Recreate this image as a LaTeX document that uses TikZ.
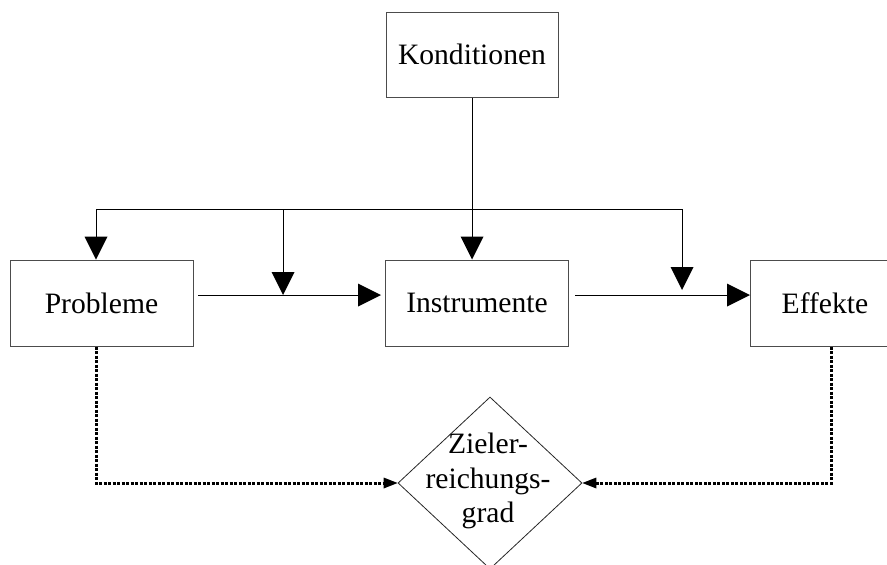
\documentclass[tikz,border=0pt]{standalone}
\usepackage{fontspec}
\setmainfont{Liberation Serif}
\usetikzlibrary{shapes.geometric,arrows.meta}
\begin{document}
\begin{tikzpicture}[x=1pt,y=-1pt,
  txt/.style={font=\fontsize{29.6}{34.5}\selectfont},
  box/.style={txt, draw=black!70, line width=1pt, minimum width=183pt, minimum height=86pt, inner sep=0pt},
  wire/.style={line width=1pt},
  flow/.style={wire, -{Triangle[length=23pt,width=23pt,line width=0pt]}},
  dots/.style={line width=3pt, dash pattern=on 3pt off 1.5pt, -{Triangle[length=14pt,width=11pt,line width=0pt]}},
]
\useasboundingbox (0,0) rectangle (887,565);
\clip (0,0) rectangle (887,565);

\node[box, minimum width=172pt, minimum height=85pt] (kond) at (472,54.5) {Konditionen};
\node[box] (prob) at (101.5,303) {Probleme};
\node[box] (inst) at (477,303) {Instrumente};
\node[box, minimum width=150pt] (eff) at (825,303) {Effekte};
\node[diamond, draw=black!85, line width=0.8pt, minimum width=184pt, minimum height=172pt, inner sep=0pt] (zgr) at (490,483) {};
\node[txt, align=center, inner sep=0pt] (zgrtext) at (488,481) {Zieler-\\reichungs-\\grad};

\coordinate (busL) at (96,209);
\coordinate (busM) at (283,209);
\coordinate (busR) at (682,209);
\coordinate (j1) at (283,295);
\coordinate (j2) at (682,290);
\coordinate (a1) at (198,295);
\coordinate (a2) at (381,295);
\coordinate (a3) at (575,295);
\coordinate (a4) at (750,295);
\coordinate (dl) at (96,483);
\coordinate (dr) at (831,483);

\draw[wire] (busL) -- (busR);
\draw[flow] (kond.south) -- (kond.south |- inst.north);
\draw[flow] (busL) -- (busL |- prob.north);
\draw[flow] (busM) -- (j1);
\draw[flow] (busR) -- (j2);
\draw[flow] (a1) -- (a2);
\draw[flow] (a3) -- (a4);

\draw[dots] (dl |- prob.south) -- (dl) -- (zgr.west);
\draw[dots] (dr |- eff.south) -- (dr) -- (zgr.east);
\end{tikzpicture}
\end{document}
